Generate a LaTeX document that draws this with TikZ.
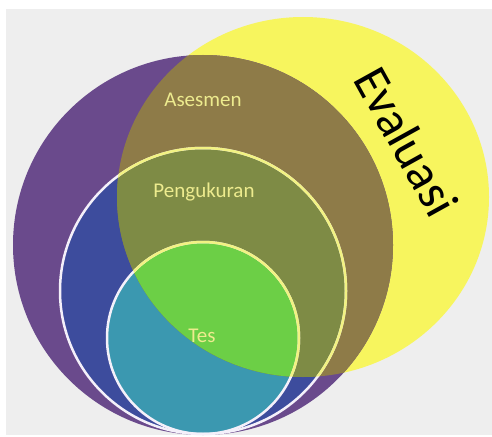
\documentclass[tikz,border=0pt]{standalone}
\usepackage{fontspec}
\setmainfont{Carlito}
\usepackage{xcolor}
\usepackage{tikz}
\usetikzlibrary{positioning}
\definecolor{bggray}{HTML}{EEEEEE}
\definecolor{evalyellow}{HTML}{F7F55E}
\definecolor{asespurple}{HTML}{6A4A8C}
\definecolor{asesbrown}{HTML}{8E7B48}
\definecolor{ukurblue}{HTML}{3D4C9D}
\definecolor{ukurolive}{HTML}{7E8B45}
\definecolor{testeal}{HTML}{3B98B0}
\definecolor{tesgreen}{HTML}{6CCF46}
\definecolor{labelyellow}{HTML}{EDEB8E}
\definecolor{ringwhite}{HTML}{F4F0FA}
\definecolor{ringyellow}{HTML}{F2F283}

\begin{document}
\begin{tikzpicture}[x=1pt, y=-1pt,
    setlabel/.style={text=labelyellow, font=\fontsize{21}{21}\selectfont},
    ringline/.style={draw=#1, line width=2.5pt}]
  \useasboundingbox (0,0) rectangle (492,436);
  \fill[white] (0,0) rectangle (492,436);
  \fill[bggray] (6,9) rectangle (492,435);
  % the four sets
  \fill[evalyellow] (303,197) ellipse [x radius=186, y radius=180];
  \fill[asespurple] (203,245) circle [radius=190];
  \fill[ukurblue] (203,291) circle [radius=143];
  \fill[testeal] (203,338) circle [radius=96];
  % overlap with Evaluasi
  \begin{scope}
    \clip (303,197) ellipse [x radius=186, y radius=180];
    \fill[asesbrown] (203,245) circle [radius=190];
    \fill[ukurolive] (203,291) circle [radius=143];
    \fill[tesgreen] (203,338) circle [radius=96];
  \end{scope}
  % rings
  \draw[ringline=ringwhite] (203,291) circle [radius=143];
  \draw[ringline=ringwhite] (203,338) circle [radius=96];
  \begin{scope}
    \clip (303,197) ellipse [x radius=186, y radius=180];
    \draw[ringline=ringyellow] (203,291) circle [radius=143];
    \draw[ringline=ringyellow] (203,338) circle [radius=96];
  \end{scope}
  % labels
  \node[setlabel] (asesmen) at (203,100) {Asesmen};
  \node[setlabel] (pengukuran) at (204,192) {Pengukuran};
  \node[setlabel] (tes) at (202,336) {Tes};
  \node[font=\fontsize{50}{50}\selectfont, rotate=-61] (evaluasi) at (407,142) {Evaluasi};
\end{tikzpicture}
\end{document}
